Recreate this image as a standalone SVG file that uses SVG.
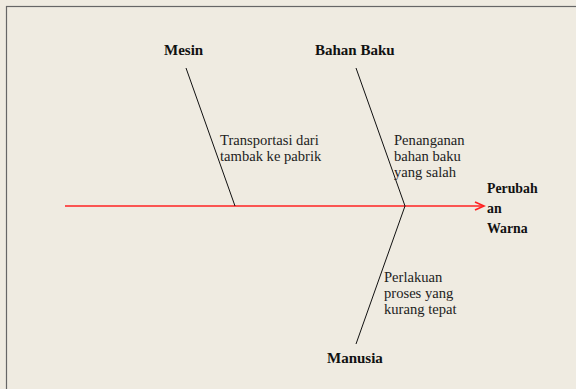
<svg xmlns="http://www.w3.org/2000/svg" width="576" height="389" viewBox="0 0 576 389">
<style>
.bone{stroke:#111;stroke-width:1;fill:none}
.spine{stroke:#f22;stroke-width:1.5;fill:none}
.cat{font-family:"Liberation Serif",serif;font-weight:bold;font-size:15px;fill:#111}
.eff{font-family:"Liberation Serif",serif;font-weight:bold;font-size:13.8px;fill:#111}
.lbl{font-family:"Liberation Serif",serif;font-size:14.6px;fill:#222}
</style>
<defs>
<marker id="arr" markerWidth="12" markerHeight="10" refX="10" refY="5" orient="auto" markerUnits="userSpaceOnUse">
<path d="M1,1 L10,5 L1,9" fill="none" stroke="#f22" stroke-width="1.8"/>
</marker>
</defs>
<rect x="0" y="0" width="576" height="389" fill="#efebe1"/>
<rect x="6.5" y="6.5" width="580" height="400" fill="none" stroke="#666" stroke-width="1.2"/>
<g id="connectors">
<line class="spine" x1="65" y1="206" x2="484" y2="206" marker-end="url(#arr)"/>
<line class="bone" x1="186" y1="68" x2="235" y2="206"/>
<line class="bone" x1="356" y1="68" x2="405" y2="206"/>
<line class="bone" x1="405" y1="206" x2="356" y2="344"/>
</g>
<g id="mesin"><text class="cat" x="164" y="55">Mesin</text></g>
<g id="bahan-baku"><text class="cat" x="315" y="55">Bahan Baku</text></g>
<g id="manusia"><text class="cat" x="327" y="363">Manusia</text></g>
<g id="perubahan-warna"><text class="eff" x="487" y="193">Perubah</text><text class="eff" x="487" y="213">an</text><text class="eff" x="487" y="233">Warna</text></g>
<g id="transportasi"><text class="lbl" x="220" y="145">Transportasi dari</text><text class="lbl" x="220" y="161">tambak ke pabrik</text></g>
<g id="penanganan"><text class="lbl" x="394" y="145">Penanganan</text><text class="lbl" x="394" y="161">bahan baku</text><text class="lbl" x="394" y="177">yang salah</text></g>
<g id="perlakuan"><text class="lbl" x="384" y="282">Perlakuan</text><text class="lbl" x="384" y="298">proses yang</text><text class="lbl" x="384" y="314">kurang tepat</text></g>
</svg>
